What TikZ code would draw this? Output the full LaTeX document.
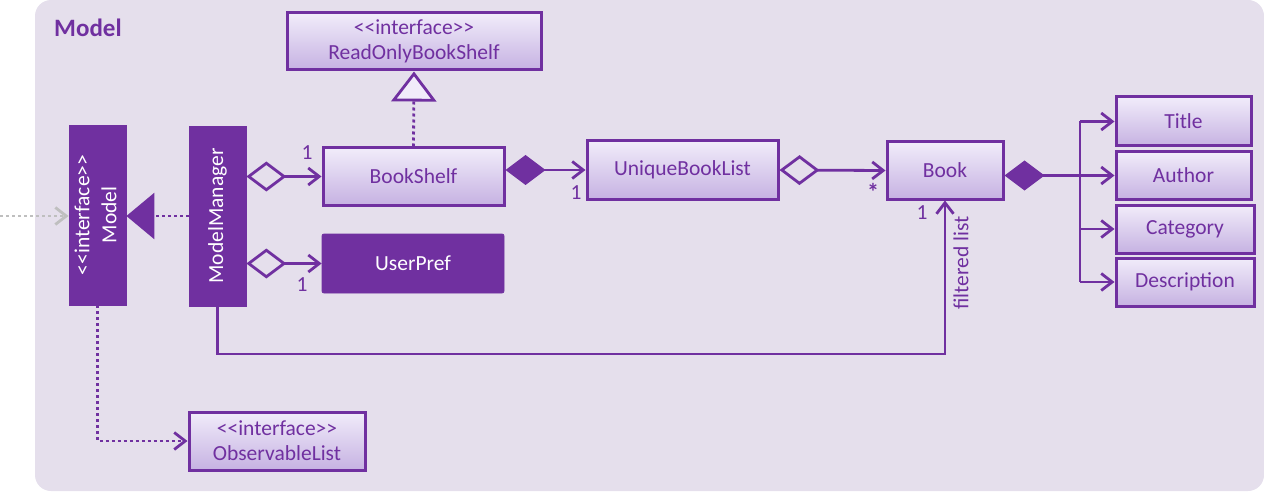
\documentclass[tikz,border=0pt]{standalone}
\usepackage{fontspec}
\setmainfont{Carlito}
\usetikzlibrary{arrows.meta}
\definecolor{mp}{HTML}{7030A0}
\definecolor{bgc}{HTML}{E5DFEC}
\definecolor{topc}{HTML}{F1ECFA}
\definecolor{botc}{HTML}{C6B2E2}
\definecolor{greyc}{HTML}{BFBFBF}
\newcommand{\stereo}{<\kern0pt<interface>\kern0pt>}
\begin{document}
\begin{tikzpicture}[x=1pt,y=-1pt,
  cls/.style={draw=mp, line width=3pt, top color=topc, bottom color=botc, text=mp,
    font=\fontsize{21.5}{25}\selectfont, align=center, inner sep=0pt},
  dark/.style={draw=mp, fill=mp, line width=0.8pt, text=white,
    font=\fontsize{21.5}{27}\selectfont, align=center, inner sep=0pt},
  mult/.style={text=mp, font=\fontsize{21.5}{24}\selectfont, inner sep=0pt},
  conn/.style={draw=mp, line width=2.8pt},
  dots/.style={conn, dash pattern=on 3pt off 3pt},
  barb/.tip={Straight Barb[length=11pt 0 0, width=17pt 0 0, line width=2.8pt]},
  odia/.tip={Diamond[open, length=40pt 0 0, width=30pt 0 0, line width=2.8pt]},
  fdia/.tip={Diamond[length=40pt 0 0, width=30pt 0 0]},
]
\useasboundingbox (0,0) rectangle (1264,492);
\fill[bgc, rounded corners=16pt] (35,0) rectangle (1264,491);
\node[anchor=west, text=mp, font=\fontsize{25}{28}\selectfont\bfseries, inner sep=0pt] (title0) at (54,28) {Model};

% nodes
\node[dark, minimum width=57pt, minimum height=180pt] (model) at (97.5,215)
  {\rotatebox{90}{\begin{tabular}{@{}c@{}}\stereo\\Model\end{tabular}}};
\node[dark, minimum width=57pt, minimum height=180pt] (mm) at (217.5,216)
  {\rotatebox{90}{ModelManager}};
\node[cls, minimum width=254pt, minimum height=57pt] (robs) at (414,41.5) {\stereo\\ReadOnlyBookShelf};
\node[cls, minimum width=181pt, minimum height=57pt] (bs) at (413.5,176.5) {BookShelf};
\node[dark, rounded corners=2pt, minimum width=182pt, minimum height=59pt] (up) at (413,263.5) {UserPref};
\node[cls, minimum width=191pt, minimum height=58pt] (ubl) at (682.5,170) {UniqueBookList};
\node[cls, minimum width=116pt, minimum height=57pt] (book) at (945,170.5) {Book};
\node[cls, minimum width=135pt, minimum height=49pt] (title) at (1183.5,121.5) {Title};
\node[cls, minimum width=135pt, minimum height=47pt] (author) at (1183.5,175.5) {Author};
\node[cls, minimum width=138pt, minimum height=48pt] (cat) at (1185,229) {Category};
\node[cls, minimum width=138pt, minimum height=48pt] (desc) at (1185,282) {Description};
\node[cls, minimum width=176pt, minimum height=58pt] (ol) at (277,441) {\stereo\\ObservableList};

% connectors
\coordinate (ext) at (0,216);
\draw[conn, draw=greyc, dash pattern=on 3pt off 3pt, -{Straight Barb[length=11pt 0 0, width=17pt 0 0, line width=2.8pt]}] (ext) -- (ext -| model.west);
\draw[dots, -{Triangle[length=28pt 0 0, width=46pt 0 0]}] (mm.west) -- (mm.west -| model.east);
\draw[dots, -{Triangle[open, fill=topc, length=30pt 0 0, width=45pt 0 0, line width=2.8pt]}] (bs.north) -- (robs.south);
\draw[dots, -barb] (model.south) |- (ol.west);

\draw[conn, odia-barb] (mm.east |- bs.west) -- (bs.west);
\draw[conn, odia-barb] (mm.east |- up.west) -- (up.west);
\draw[conn, fdia-barb] (bs.east |- ubl.west) -- (ubl.west);
\draw[conn, odia-barb] (ubl.east) -- (book.west);

\coordinate (j) at (1080,176);
\draw[conn, fdia-barb] (book.east |- author.west) -- (author.west);
\draw[conn] (j |- title.west) -- (j |- desc.west);
\draw[conn, -barb] (j |- title.west) -- (title.west);
\draw[conn, -barb] (j |- cat.west) -- (cat.west);
\draw[conn, -barb] (j |- desc.west) -- (desc.west);

\coordinate (fl) at (945,354);
\draw[conn, -barb] (mm.south) -- (mm.south |- fl) -- (fl) -- (book.south);
\node[mult, rotate=90] (fll) at (961,263) {filtered list};

% multiplicities
\node[mult] (m1) at (307,153) {1};
\node[mult] (m2) at (302,285) {1};
\node[mult] (m3) at (576,193) {1};
\node[mult, font=\fontsize{24}{24}\selectfont\bfseries] (m4) at (873,192) {*};
\node[mult] (m5) at (922,213) {1};
\end{tikzpicture}
\end{document}
